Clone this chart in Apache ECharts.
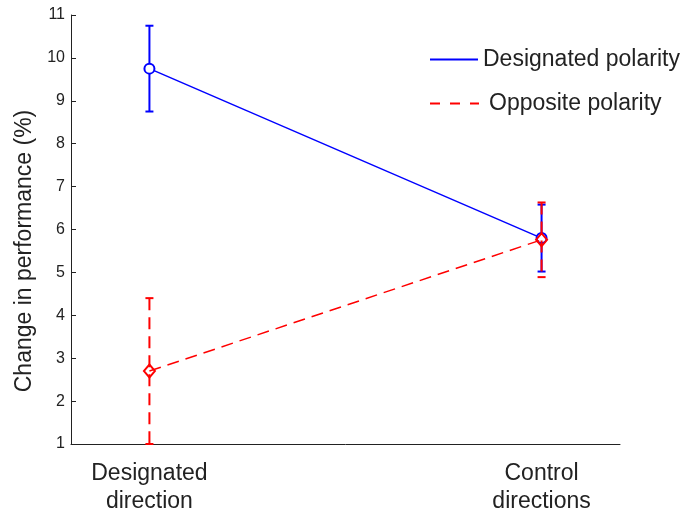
<!DOCTYPE html>
<html>
<head>
<meta charset="utf-8">
<script src="https://cdn.jsdelivr.net/npm/echarts@6/dist/echarts.min.js"></script>
<style>html,body{margin:0;padding:0;background:#fff}#c{width:692px;height:516px}</style>
</head>
<body>
<div id="c"></div>
<script>
var categories = ['Designated\ndirection', 'Control\ndirections'];
var xPositions = [1, 2];
var designatedMean = [9.75, 5.80];
var designatedLow = [8.75, 5.02];
var designatedHigh = [10.75, 6.58];
var oppositeMean = [2.70, 5.76];
var oppositeLow = [1.00, 4.89];
var oppositeHigh = [4.40, 6.63];
var yTicks = [1, 2, 3, 4, 5, 6, 7, 8, 9, 10, 11];
var yTitle = 'Change in performance (%)';

var FONT = 'Liberation Sans, Arial, Helvetica, sans-serif';
var BLUE = '#0000ff';
var RED = '#ff0000';

function pts(means) { return xPositions.map(function (x, i) { return [x, means[i]]; }); }
function errs(lo, hi) { return xPositions.map(function (x, i) { return [x, lo[i], hi[i]]; }); }

function errRender(color, dashed) {
  return function (params, api) {
    var top = api.coord([api.value(0), api.value(2)]);
    var bot = api.coord([api.value(0), api.value(1)]);
    var hw = 4;
    var style = { stroke: color, lineWidth: 2, lineDash: dashed ? [12, 7] : null, fill: null };
    var capStyle = { stroke: color, lineWidth: 2, fill: null };
    return {
      type: 'group',
      children: [
        { type: 'line', shape: { x1: top[0], y1: top[1], x2: bot[0], y2: bot[1] }, style: style },
        { type: 'line', shape: { x1: top[0] - hw, y1: top[1], x2: top[0] + hw, y2: top[1] }, style: capStyle },
        { type: 'line', shape: { x1: bot[0] - hw, y1: bot[1], x2: bot[0] + hw, y2: bot[1] }, style: capStyle }
      ]
    };
  };
}

var chart = echarts.init(document.getElementById('c'), null, { renderer: 'canvas' });
chart.setOption({
  animation: false,
  backgroundColor: '#ffffff',
  textStyle: { fontFamily: FONT },
  grid: { left: 71, right: 72, top: 15, bottom: 68, containLabel: false },
  graphic: [{
    type: 'text', x: 25, y: 251, rotation: Math.PI / 2,
    style: { text: yTitle, fontSize: 23, fill: '#222', font: '23px ' + FONT, align: 'center', verticalAlign: 'middle' }
  }],
  legend: [
    {
      data: ['Designated polarity'],
      left: 424, top: 43, itemWidth: 48, itemHeight: 14,
      textStyle: { fontSize: 23, color: '#222', fontFamily: FONT }
    },
    {
      data: ['Opposite polarity'],
      left: 424, top: 87, itemWidth: 49, itemHeight: 14,
      textStyle: { fontSize: 23, color: '#222', fontFamily: FONT, padding: [0, 0, 0, 5] }
    }
  ],
  xAxis: {
    type: 'value', min: 0.8, max: 2.2,
    splitLine: { show: false },
    axisLine: { show: true, onZero: false, lineStyle: { color: '#222', width: 1 } },
    axisTick: { show: false },
    axisLabel: {
      customValues: xPositions,
      fontSize: 23, color: '#222', fontFamily: FONT, margin: 16, lineHeight: 28,
      formatter: function (v) { var i = xPositions.indexOf(v); return i >= 0 ? categories[i] : ''; }
    }
  },
  yAxis: {
    type: 'value', min: 1, max: 11, interval: 1,
    splitLine: { show: false },
    axisLine: { show: true, lineStyle: { color: '#222', width: 1 } },
    axisTick: { show: true, inside: true, length: 5, lineStyle: { color: '#222' } },
    axisLabel: { fontSize: 16, color: '#222', fontFamily: FONT, margin: 6,
      formatter: function (v) { return yTicks.indexOf(v) >= 0 ? String(v) : ''; } }
  },
  series: [
    { name: 'Designated polarity', type: 'line', data: [], symbol: 'none', lineStyle: { color: BLUE, width: 1.5 }, itemStyle: { color: BLUE, opacity: 0 } },
    { name: 'Opposite polarity', type: 'line', data: [], symbol: 'none', lineStyle: { color: RED, width: 1.5, type: [10, 10] }, itemStyle: { color: RED, opacity: 0 } },
    { name: 'dErr', type: 'custom', data: errs(designatedLow, designatedHigh), renderItem: errRender(BLUE, false), z: 2 },
    { name: 'dLine', type: 'line', data: pts(designatedMean), symbol: 'circle', symbolSize: 10,
      lineStyle: { color: BLUE, width: 1.5 }, itemStyle: { color: '#fff', borderColor: BLUE, borderWidth: 2 }, z: 3 },
    { name: 'oErr', type: 'custom', data: errs(oppositeLow, oppositeHigh), renderItem: errRender(RED, true), z: 4 },
    { name: 'oLine', type: 'line', data: pts(oppositeMean), symbol: 'diamond', symbolSize: [11, 13],
      lineStyle: { color: RED, width: 1.5, type: [12, 7] }, itemStyle: { color: 'rgba(255,255,255,0)', borderColor: RED, borderWidth: 2 }, z: 5 }
  ]
});
</script>
</body>
</html>
